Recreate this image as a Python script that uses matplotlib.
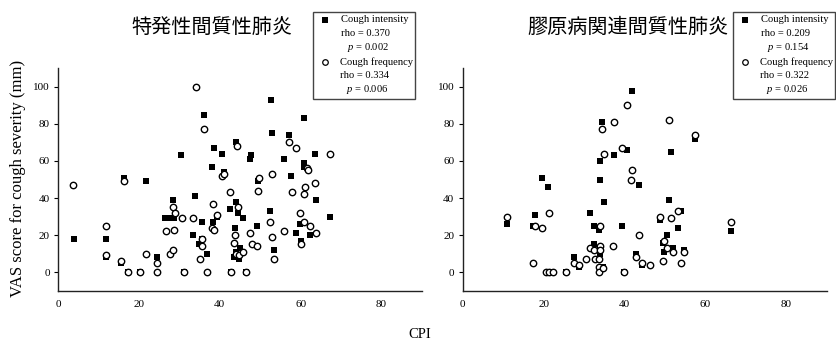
import matplotlib
matplotlib.use("Agg")
import matplotlib.pyplot as plt
from matplotlib.lines import Line2D
from matplotlib.patches import Rectangle

plt.rcParams['font.family'] = ['Liberation Serif', 'DejaVu Serif']
plt.rcParams['mathtext.fontset'] = 'custom'
plt.rcParams['mathtext.it'] = 'Liberation Serif:italic'
plt.rcParams['mathtext.rm'] = 'Liberation Serif'

# ---- data: 特発性間質性肺炎 (left) ----
ipf_int_x = [3.9, 11.9, 16.3, 15.7, 21.7, 24.5, 11.9, 30.5, 28.4, 26.5, 27.6, 28.7, 33.9, 33.5,
             35.5, 34.9, 35.7, 36.8, 36.2, 38.5, 38.1, 40.6, 41.0, 38.3, 39.4, 42.5, 44.1, 44.1,
             44.6, 43.8, 45.7, 43.4, 44.0, 45.0, 44.7, 47.4, 47.8, 49.5, 49.1, 52.6, 52.9, 52.4,
             53.3, 55.9, 57.0, 57.7, 60.9, 60.9, 60.8, 63.6, 63.8, 58.9, 59.8, 60.0, 62.3, 67.3,
             17.3, 20.3, 31.2, 42.7, 46.5]
ipf_int_y = [18, 18, 51, 5, 49, 8, 8, 63, 39, 29, 29, 29, 41, 20,
             27, 15, 18, 10, 85, 67, 57, 64, 54, 27, 30, 34, 70, 38,
             32, 24, 29, 8, 11, 13, 7, 61, 63, 49, 25, 93, 75, 33,
             12, 61, 74, 52, 83, 59, 57, 64, 39, 21, 26, 17, 20, 30,
             0, 0, 0, 0, 0]
ipf_freq_x = [3.8, 11.9, 11.8, 15.7, 16.3, 17.3, 20.3, 21.7, 24.4, 24.5, 27.6, 28.4, 26.7, 28.6,
              28.4, 29.0, 30.6, 31.2, 33.5, 34.0, 36.2, 35.1, 35.6, 35.7, 36.9, 38.1, 38.5, 38.4,
              39.4, 40.6, 41.0, 42.5, 42.7, 43.6, 43.8, 44.0, 44.2, 44.6, 44.7, 45.8, 46.5, 47.5,
              47.9, 49.1, 49.4, 49.8, 52.5, 52.8, 52.9, 53.3, 55.9, 57.0, 57.8, 58.9, 59.9, 60.1,
              60.8, 60.8, 61.0, 61.6, 61.8, 62.4, 63.5, 63.8, 67.3]
ipf_freq_y = [47, 25, 9, 6, 49, 0, 0, 10, 5, 0, 10, 12, 22, 23,
              35, 32, 29, 0, 29, 100, 77, 7, 14, 18, 0, 24, 23, 37,
              31, 52, 53, 43, 0, 16, 20, 10, 68, 35, 9, 11, 0, 21,
              15, 14, 44, 51, 27, 53, 19, 7, 22, 70, 43, 67, 32, 15,
              27, 42, 46, 56, 55, 25, 48, 21, 64]

# ---- data: 膠原病関連間質性肺炎 (right) ----
ctd_int_x = [10.9, 17.9, 17.3, 19.6, 21.2, 27.5, 28.7, 31.5, 32.5, 32.5, 33.6, 33.9, 33.9, 34.4,
             34.0, 34.0, 34.6, 35.0, 37.3, 39.3, 40.7, 41.9, 43.6, 42.9, 44.3, 48.7, 49.5, 49.7,
             50.6, 50.9, 51.4, 51.9, 53.3, 53.9, 54.6, 57.5, 66.3, 21.5, 25.5, 40.0]
ctd_int_y = [26, 31, 25, 51, 46, 8, 3, 32, 25, 15, 23, 60, 50, 81,
             10, 12, 3, 38, 63, 25, 66, 98, 47, 10, 4, 28, 16, 11,
             20, 39, 65, 13, 24, 33, 12, 72, 22, 0, 0, 0]
ctd_freq_x = [10.9, 17.5, 17.9, 19.6, 21.3, 20.6, 21.4, 22.4, 25.5, 27.5, 28.7, 30.5, 31.5, 32.5,
              32.7, 33.6, 33.6, 33.8, 34.0, 34.0, 34.0, 34.6, 34.4, 35.0, 37.1, 37.3, 39.3, 40.0,
              40.7, 41.9, 41.7, 43.5, 42.9, 44.3, 46.4, 48.7, 49.5, 49.7, 50.6, 50.9, 51.4, 51.9,
              53.3, 53.9, 54.6, 57.5, 66.3]
ctd_freq_y = [30, 5, 25, 24, 32, 0, 0, 0, 0, 5, 4, 7, 13, 12,
              7, 7, 3, 0, 25, 14, 12, 2, 77, 64, 14, 81, 67, 0,
              90, 55, 50, 20, 8, 5, 4, 30, 6, 17, 13, 82, 29, 11,
              33, 5, 11, 74, 27]

titles = ["特発性間質性肺炎", "膠原病関連間質性肺炎"]
stats = [("0.370", "0.002", "0.334", "0.006"), ("0.209", "0.154", "0.322", "0.026")]
x_ticks = [0, 20, 40, 60, 80]
y_ticks = [0, 20, 40, 60, 80, 100]

W, H = 837, 344
fig = plt.figure(figsize=(W / 100, H / 100), dpi=100)

def fx(px):
    return px / W

def fy(py):
    return 1 - py / H

ax_left = [58, 462.7]
ax_width_px = 364
axes = []
for x0 in ax_left:
    ax = fig.add_axes([fx(x0), fy(290.7), ax_width_px / W, (290.7 - 68.3) / H])
    axes.append(ax)

datasets = [(ipf_int_x, ipf_int_y, ipf_freq_x, ipf_freq_y),
            (ctd_int_x, ctd_int_y, ctd_freq_x, ctd_freq_y)]

for ax, (ix, iy, cx, cy) in zip(axes, datasets):
    ax.plot(ix, iy, linestyle='none', marker='s', markersize=4.0, color='black',
            markeredgewidth=0, zorder=2)
    ax.plot(cx, cy, linestyle='none', marker='o', markersize=4.6, markerfacecolor='white',
            markeredgecolor='black', markeredgewidth=1.0, zorder=3)
    ax.set_xlim(0, 90)
    ax.set_ylim(-10, 110)
    ax.set_xticks(x_ticks)
    ax.set_yticks(y_ticks)
    for s in ['top', 'right']:
        ax.spines[s].set_visible(False)
    for s in ['left', 'bottom']:
        ax.spines[s].set_linewidth(1.0)
        ax.spines[s].set_color('#222222')
    ax.tick_params(axis='x', length=0, pad=7, labelsize=8)
    ax.tick_params(axis='y', length=3, width=0.8, pad=3, labelsize=8, direction='out')
    ax.set_facecolor('none')

# titles
title_x = [212, 628]
for t, xc in zip(titles, title_x):
    fig.text(fx(xc), fy(27), t, ha='center', va='center', fontsize=14.5,
             family=['Noto Sans CJK JP', 'DejaVu Sans'])

# legends drawn manually
leg_x = [313, 733]
for (r1, p1, r2, p2), lx in zip(stats, leg_x):
    rect = Rectangle((fx(lx), fy(99)), 102 / W, 87 / H, transform=fig.transFigure,
                     facecolor='white', edgecolor='#444444', linewidth=1.0, zorder=5)
    fig.add_artist(rect)
    fig.add_artist(Line2D([fx(lx + 12.5)], [fy(20)], marker='s', markersize=3.8,
                          color='black', markeredgewidth=0, linestyle='none',
                          transform=fig.transFigure, zorder=6))
    fig.add_artist(Line2D([fx(lx + 12.5)], [fy(62)], marker='o', markersize=4.0,
                          markerfacecolor='white', markeredgecolor='black',
                          markeredgewidth=0.9, linestyle='none',
                          transform=fig.transFigure, zorder=6))
    kw = dict(fontsize=7.6, va='center', ha='left', zorder=7, family='Liberation Serif')
    fig.text(fx(lx + 28), fy(20), "Cough intensity", **kw)
    fig.text(fx(lx + 28), fy(33.5), "rho = " + r1, **kw)
    fig.text(fx(lx + 34), fy(47), r"$p$ = " + p1, **kw)
    fig.text(fx(lx + 27), fy(62), "Cough frequency", **kw)
    fig.text(fx(lx + 27), fy(76), "rho = " + r2, **kw)
    fig.text(fx(lx + 33), fy(89.5), r"$p$ = " + p2, **kw)

fig.text(fx(18), fy(178), "VAS score for cough severity (mm)", rotation=90,
         ha='center', va='center', fontsize=12, family='Liberation Serif')
fig.text(fx(420), fy(335), "CPI", ha='center', va='center', fontsize=10.5,
         family='Liberation Serif')

fig.savefig("out.png", dpi=100)
